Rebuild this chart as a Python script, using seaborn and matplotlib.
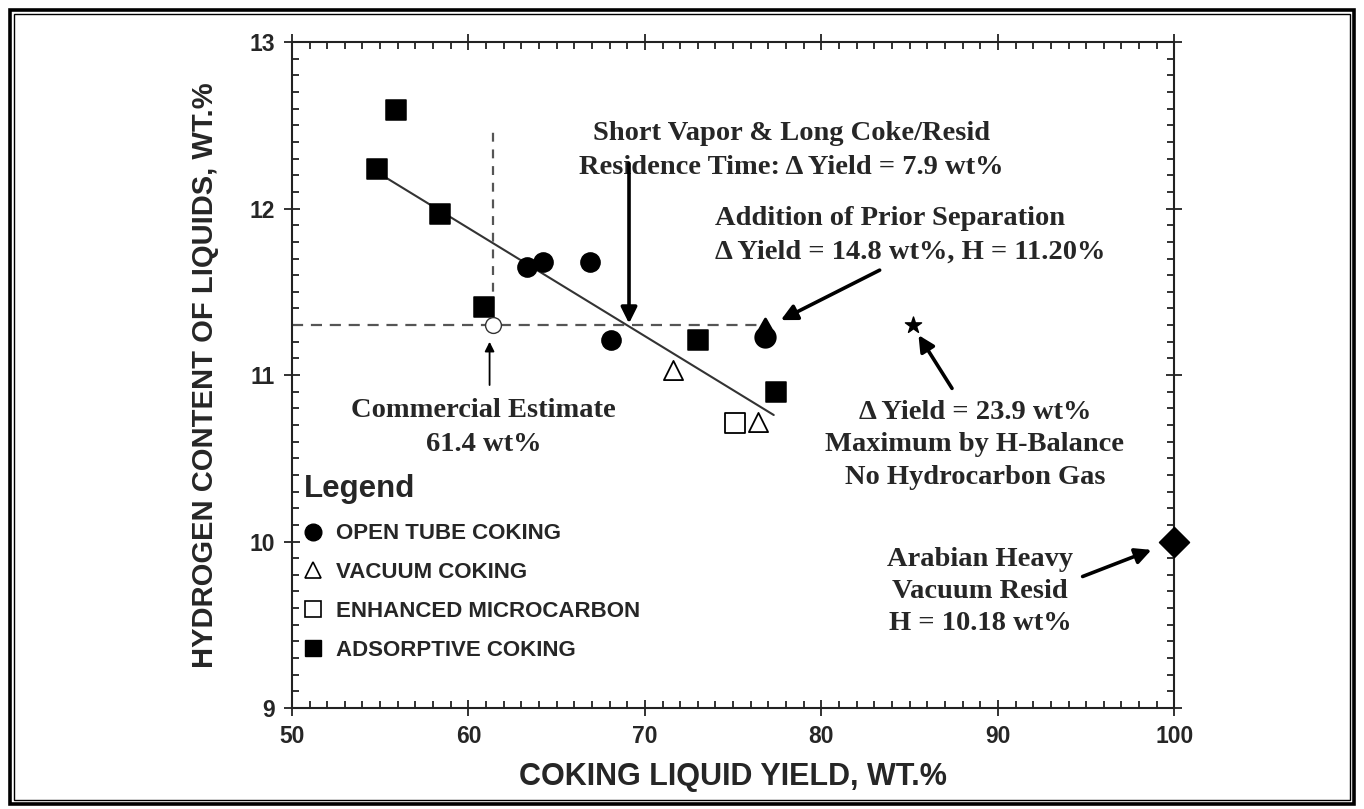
import numpy as np
import pandas as pd
import matplotlib
matplotlib.use('Agg')
import matplotlib.pyplot as plt
import seaborn as sns
from matplotlib.lines import Line2D
from matplotlib.path import Path
from matplotlib.patches import Rectangle

# Data
open_tube_x = [63.3, 64.2, 66.9, 68.1]
open_tube_y = [11.65, 11.68, 11.68, 11.21]
vacuum_x = [71.6, 76.4]
vacuum_y = [11.03, 10.72]
microcarbon_x = [75.1]
microcarbon_y = [10.71]
adsorptive_x = [54.8, 55.9, 58.4, 60.9, 73.0, 77.4]
adsorptive_y = [12.24, 12.59, 11.97, 11.41, 11.21, 10.90]

prior_sep_x = [76.8]
prior_sep_y = [11.23]
commercial_x = [61.4]
commercial_y = [11.30]
h_balance_x = [85.2]
h_balance_y = [11.30]
arabian_x = [100.0]
arabian_y = [10.0]

trend_x = [54.8, 77.3]
trend_y = [12.22, 10.76]

ref_h = 11.3
ref_yield = 61.4

sns.set_style('ticks')
plt.rcParams['font.family'] = ['Liberation Sans', 'DejaVu Sans']
serif = ['Liberation Serif', 'DejaVu Serif']

fig = plt.figure(figsize=(13.64, 8.09), dpi=100)
ax = fig.add_axes([0.214, 0.1248, 0.647, 0.8232])

# regression line and reference lines
sns.lineplot(x=trend_x, y=trend_y, color='#333333', lw=1.5, ax=ax)
sns.lineplot(x=[50, 76.6], y=[ref_h, ref_h], color='#555555', lw=1.6,
             estimator=None, sort=False, ax=ax)
ax.lines[-1].set_linestyle((0, (5, 3.5)))
sns.lineplot(x=[ref_yield, ref_yield], y=[ref_h, 12.5], color='#555555', lw=1.6,
             estimator=None, sort=False, ax=ax)
ax.lines[-1].set_linestyle((0, (4, 3.5)))

# data series
ms = 190
sns.scatterplot(x=open_tube_x, y=open_tube_y, marker='o', s=ms, color='k',
                edgecolor='k', ax=ax, zorder=5)
sns.scatterplot(x=vacuum_x, y=vacuum_y, marker='^', s=ms, facecolor='white',
                edgecolor='k', linewidth=1.3, ax=ax, zorder=5)
sns.scatterplot(x=microcarbon_x, y=microcarbon_y, marker='s', s=ms, facecolor='white',
                edgecolor='k', linewidth=1.3, ax=ax, zorder=5)
sns.scatterplot(x=adsorptive_x, y=adsorptive_y, marker='s', s=ms, color='k',
                edgecolor='k', ax=ax, zorder=5)

# teardrop marker for the prior-separation point
t = np.linspace(0.72 * np.pi, 2.28 * np.pi, 60)
verts = np.vstack([[[0, 1.9]], np.column_stack([np.cos(t), np.sin(t)]), [[0, 1.9]], [[0, 1.9]]])
codes = [Path.MOVETO] + [Path.LINETO] * (len(verts) - 2) + [Path.CLOSEPOLY]
drop_marker = Path(verts, codes)
sns.scatterplot(x=prior_sep_x, y=prior_sep_y, marker=drop_marker, s=700, color='k',
                edgecolor='k', ax=ax, zorder=5)

sns.scatterplot(x=commercial_x, y=commercial_y, marker='o', s=130, facecolor='white',
                edgecolor='#333333', linewidth=1.0, ax=ax, zorder=5)
sns.scatterplot(x=h_balance_x, y=h_balance_y, marker='*', s=150, color='k',
                edgecolor='k', ax=ax, zorder=5)
sns.scatterplot(x=arabian_x, y=arabian_y, marker='D', s=230, color='k',
                edgecolor='k', ax=ax, zorder=6, clip_on=False)

# axes
ax.set_xlim(50, 100)
ax.set_ylim(9, 13)
ax.set_xticks(range(50, 101, 10))
ax.set_yticks(range(9, 14))
ax.set_xticks(np.arange(50, 101, 1), minor=True)
ax.set_yticks(np.arange(9, 13.01, 0.1), minor=True)
ax.tick_params(which='both', top=True, right=True, width=1.3, color='#222222')
ax.tick_params(which='major', direction='inout', length=12, labelsize=16.5, pad=6)
ax.tick_params(which='minor', direction='in', length=5)
for lab in ax.get_xticklabels() + ax.get_yticklabels():
    lab.set_fontweight('bold')
for sp in ax.spines.values():
    sp.set_linewidth(1.5)
    sp.set_color('#222222')
ax.set_xlabel('COKING LIQUID YIELD, WT.%', fontsize=22, fontweight='bold', labelpad=10)
ax.set_ylabel('HYDROGEN CONTENT OF LIQUIDS, WT.%', fontsize=21, fontweight='bold', labelpad=22)

# legend
handles = [
    Line2D([], [], ls='', marker='o', ms=12, mfc='k', mec='k'),
    Line2D([], [], ls='', marker='^', ms=12, mfc='white', mec='k', mew=1.2),
    Line2D([], [], ls='', marker='s', ms=12, mfc='white', mec='k', mew=1.2),
    Line2D([], [], ls='', marker='s', ms=12, mfc='k', mec='k'),
]
labels = ['OPEN TUBE COKING', 'VACUUM COKING', 'ENHANCED MICROCARBON', 'ADSORPTIVE COKING']
leg = ax.legend(handles, labels, title='Legend', loc='upper left',
                bbox_to_anchor=(304 / 1364, 1 - 474 / 809), bbox_transform=fig.transFigure,
                frameon=False, borderpad=0, borderaxespad=0, handlelength=0.8,
                handletextpad=0.65, labelspacing=0.8, alignment='left',
                prop={'size': 16, 'weight': 'bold'},
                title_fontproperties={'size': 22.5, 'weight': 'bold'})
leg._legend_box.sep = 14

# annotations
txt2 = dict(family=serif, fontweight='bold', fontsize=20.5, linespacing=1.45)
txt3 = dict(family=serif, fontweight='bold', fontsize=20.5, linespacing=1.38)
arrow = dict(arrowstyle='-|>', color='k', lw=2.6, mutation_scale=24, shrinkA=0, shrinkB=0)

ax.text(78.3, 12.35, 'Short Vapor & Long Coke/Resid\nResidence Time: \u0394 Yield = 7.9 wt%',
        ha='center', va='center', **txt2)
ax.annotate('', xy=(69.1, 11.31), xytext=(69.1, 12.27), arrowprops=arrow)

ax.text(74.0, 11.84, 'Addition of Prior Separation\n\u0394 Yield = 14.8 wt%, H = 11.20%',
        ha='left', va='center', **txt2)
ax.annotate('', xy=(77.7, 11.33), xytext=(83.3, 11.63), arrowprops=arrow)

ax.text(60.85, 10.685, 'Commercial Estimate\n61.4 wt%', ha='center', va='center', **txt2)
ax.annotate('', xy=(61.2, 11.2), xytext=(61.2, 10.94),
            arrowprops=dict(arrowstyle='-|>', color='k', lw=1.3, mutation_scale=14,
                            shrinkA=0, shrinkB=0))

ax.text(88.7, 10.58, '\u0394 Yield = 23.9 wt%\nMaximum by H-Balance\nNo Hydrocarbon Gas',
        ha='center', va='center', **txt3)
ax.annotate('', xy=(85.5, 11.24), xytext=(87.4, 10.92), arrowprops=arrow)

ax.text(89.0, 9.70, 'Arabian Heavy\nVacuum Resid\nH = 10.18 wt%', ha='center', va='center', **txt3)
ax.annotate('', xy=(98.7, 9.95), xytext=(94.8, 9.79), arrowprops=arrow, annotation_clip=False)

# double frame around the figure
W, H = 1364, 809
fig.patches.append(Rectangle((10 / W, 5 / H), (W - 20) / W, (H - 15) / H, transform=fig.transFigure,
                             fill=False, lw=2.6, ec='k'))
fig.patches.append(Rectangle((14 / W, 9 / H), (W - 28) / W, (H - 23) / H, transform=fig.transFigure,
                             fill=False, lw=1.0, ec='k'))

fig.savefig('out.png', dpi=100)
